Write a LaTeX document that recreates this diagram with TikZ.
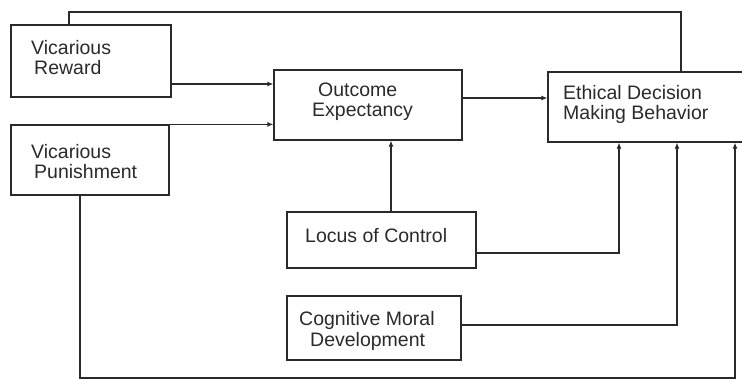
\documentclass[tikz,border=0pt]{standalone}
\usepackage{fontspec}
\setmainfont{Liberation Sans}
\usetikzlibrary{arrows.meta}
\definecolor{ink}{HTML}{2A2A2A}
\begin{document}
\begin{tikzpicture}[x=1pt,y=1pt,
  box/.style={draw=ink, line width=1.2pt, rectangle, inner sep=0pt},
  lbl/.style={anchor=base west, inner sep=0pt, text=ink,
              font=\fontsize{19.5}{20}\selectfont},
  link/.style={draw=ink, line width=1.2pt},
  arr/.style={link, -{Latex[length=6pt,width=5pt]}}]
\useasboundingbox (0,0) rectangle (742,379);

% boxes
\node[box, minimum width=160, minimum height=72] (vr) at (91,318) {};
\node[box, minimum width=158, minimum height=70] (vp) at (90,219) {};
\node[box, minimum width=188, minimum height=70] (oe) at (368,274) {};
\node[box, minimum width=202, minimum height=70] (ed) at (649,272) {};
\node[box, minimum width=189, minimum height=56] (lc) at (381.5,139) {};
\node[box, minimum width=174, minimum height=64] (cm) at (374,51) {};

% labels
\node[lbl] (vr1) at (31,324) {Vicarious};
\node[lbl] (vr2) at (34,304) {Reward};
\node[lbl] (vp1) at (31,220) {Vicarious};
\node[lbl] (vp2) at (34,200) {Punishment};
\node[lbl] (oe1) at (318,282) {Outcome};
\node[lbl] (oe2) at (312,262) {Expectancy};
\node[lbl] (ed1) at (563,279) {Ethical Decision};
\node[lbl] (ed2) at (563,259) {Making Behavior};
\node[lbl] (lc1) at (305,136) {Locus of Control};
\node[lbl] (cm1) at (299,53) {Cognitive Moral};
\node[lbl] (cm2) at (310,32) {Development};

% routing points
\coordinate (topL) at (69,367);
\coordinate (topR) at (681,367);
\coordinate (rwY) at (0,295);
\coordinate (oeY) at (0,281);
\coordinate (lcX) at (391,0);
\coordinate (lcR) at (619,126);
\coordinate (cmR) at (677,54);
\coordinate (botL) at (80,1);
\coordinate (botR) at (735,1);

% connectors
\draw[link] (vr.north -| topL) -- (topL) -- (topR) -- (ed.north -| topR);
\draw[arr] (vr.east |- rwY) -- (oe.west |- rwY);
\draw[arr] (vp.north east) -- (oe.west |- vp.north east);
\draw[arr] (oe.east |- oeY) -- (ed.west |- oeY);
\draw[arr] (lc.north -| lcX) -- (oe.south -| lcX);
\draw[arr] (lc.east |- lcR) -- (lcR) -- (ed.south -| lcR);
\draw[arr] (cm.east |- cmR) -- (cmR) -- (ed.south -| cmR);
\draw[arr] (vp.south -| botL) -- (botL) -- (botR) -- (ed.south -| botR);
\end{tikzpicture}
\end{document}
